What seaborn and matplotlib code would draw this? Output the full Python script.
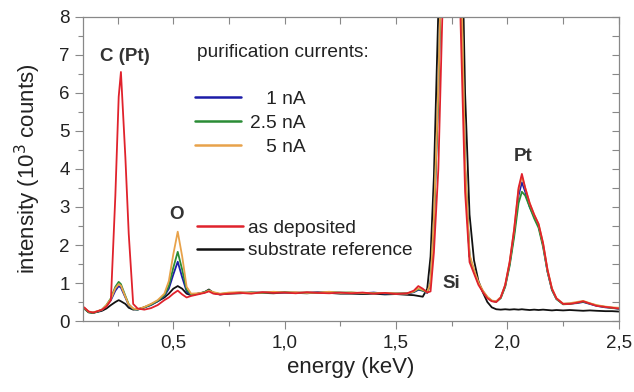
import pandas as pd
import seaborn as sns
import numpy as np
import matplotlib.pyplot as plt
from matplotlib.lines import Line2D
from matplotlib.ticker import MultipleLocator, FuncFormatter

# EDX spectra, energy in keV, intensity in 10^3 counts
energy = [0.10, 0.12, 0.14, 0.16, 0.18, 0.20, 0.22, 0.24, 0.255, 0.265,
          0.285, 0.30, 0.32, 0.34, 0.37, 0.40, 0.43, 0.46, 0.48, 0.50,
          0.52, 0.54, 0.56, 0.58, 0.61, 0.64, 0.66, 0.68, 0.71, 0.75,
          0.80, 0.85, 0.90, 0.95, 1.00, 1.05, 1.10, 1.15, 1.20, 1.25,
          1.30, 1.35, 1.40, 1.45, 1.50, 1.55, 1.58, 1.60, 1.62, 1.64,
          1.655, 1.67, 1.69, 1.71, 1.75, 1.79, 1.81, 1.83, 1.85, 1.87,
          1.89, 1.91, 1.93, 1.95, 1.97, 1.99, 2.01, 2.03, 2.05, 2.065,
          2.08, 2.10, 2.12, 2.14, 2.16, 2.18, 2.20, 2.22, 2.25, 2.28,
          2.31, 2.34, 2.37, 2.40, 2.44, 2.47, 2.50]

substrate = [0.33, 0.23, 0.22, 0.24, 0.27, 0.33, 0.42, 0.50, 0.55, 0.52,
             0.45, 0.35, 0.30, 0.31, 0.36, 0.44, 0.52, 0.62, 0.72, 0.85,
             0.92, 0.85, 0.72, 0.68, 0.72, 0.76, 0.83, 0.74, 0.70, 0.72,
             0.73, 0.75, 0.74, 0.73, 0.75, 0.74, 0.73, 0.75, 0.74, 0.72,
             0.72, 0.71, 0.72, 0.70, 0.71, 0.69, 0.68, 0.66, 0.64, 0.85,
             1.7, 3.8, 8.2, 15, 20, 12, 6.0, 2.8, 1.6, 1.05,
             0.75, 0.50, 0.36, 0.31, 0.30, 0.31, 0.30, 0.31, 0.30, 0.31,
             0.30, 0.29, 0.30, 0.29, 0.30, 0.29, 0.28, 0.29, 0.28, 0.29,
             0.28, 0.27, 0.28, 0.27, 0.26, 0.26, 0.25]

cur_1nA = [0.34, 0.24, 0.22, 0.25, 0.29, 0.40, 0.55, 0.80, 0.92, 0.88,
           0.62, 0.42, 0.32, 0.30, 0.36, 0.42, 0.52, 0.66, 0.85, 1.22,
           1.56, 1.15, 0.78, 0.68, 0.72, 0.75, 0.80, 0.74, 0.70, 0.73,
           0.75, 0.74, 0.75, 0.76, 0.74, 0.75, 0.74, 0.76, 0.75, 0.74,
           0.74, 0.73, 0.75, 0.72, 0.73, 0.72, 0.76, 0.82, 0.80, 0.74,
           1.0, 2.6, 6.0, 11, 20, 9.5, 4.0, 1.7, 1.30, 1.0,
           0.78, 0.62, 0.53, 0.51, 0.62, 0.92, 1.5, 2.3, 3.3, 3.65,
           3.4, 3.0, 2.75, 2.5, 2.0, 1.3, 0.82, 0.58, 0.45, 0.46,
           0.47, 0.50, 0.45, 0.40, 0.36, 0.35, 0.32]

cur_2p5nA = [0.33, 0.23, 0.21, 0.25, 0.30, 0.42, 0.60, 0.90, 1.03, 0.97,
             0.66, 0.44, 0.32, 0.30, 0.36, 0.43, 0.53, 0.68, 0.92, 1.40,
             1.82, 1.35, 0.82, 0.70, 0.71, 0.76, 0.81, 0.75, 0.71, 0.74,
             0.74, 0.75, 0.74, 0.75, 0.76, 0.74, 0.75, 0.74, 0.76, 0.75,
             0.75, 0.73, 0.74, 0.73, 0.72, 0.73, 0.77, 0.84, 0.80, 0.75,
             1.0, 2.6, 6.0, 11, 20, 9.5, 4.0, 1.7, 1.32, 1.0,
             0.78, 0.62, 0.53, 0.51, 0.60, 0.90, 1.45, 2.2, 3.1, 3.40,
             3.3, 3.0, 2.7, 2.45, 1.95, 1.3, 0.82, 0.58, 0.44, 0.45,
             0.48, 0.51, 0.46, 0.41, 0.37, 0.34, 0.33]

cur_5nA = [0.35, 0.25, 0.23, 0.26, 0.30, 0.42, 0.58, 0.86, 0.97, 0.93,
           0.64, 0.43, 0.33, 0.31, 0.37, 0.45, 0.55, 0.72, 1.05, 1.75,
           2.35, 1.70, 0.90, 0.72, 0.73, 0.75, 0.80, 0.76, 0.72, 0.75,
           0.76, 0.74, 0.75, 0.77, 0.75, 0.76, 0.74, 0.75, 0.77, 0.74,
           0.75, 0.74, 0.73, 0.74, 0.73, 0.72, 0.78, 0.86, 0.82, 0.76,
           1.0, 2.7, 6.2, 11, 20, 9.8, 4.2, 1.75, 1.35, 1.02,
           0.80, 0.64, 0.54, 0.52, 0.63, 0.95, 1.55, 2.4, 3.45, 3.80,
           3.5, 3.1, 2.8, 2.55, 2.05, 1.35, 0.86, 0.60, 0.46, 0.47,
           0.50, 0.53, 0.47, 0.42, 0.38, 0.36, 0.35]

as_deposited = [0.36, 0.25, 0.22, 0.26, 0.30, 0.38, 0.55, 3.3, 5.9, 6.55,
                4.3, 2.3, 0.45, 0.33, 0.30, 0.34, 0.42, 0.55, 0.62, 0.72,
                0.80, 0.70, 0.62, 0.66, 0.70, 0.74, 0.78, 0.72, 0.70, 0.72,
                0.74, 0.72, 0.76, 0.74, 0.75, 0.73, 0.76, 0.74, 0.73, 0.75,
                0.73, 0.75, 0.72, 0.74, 0.71, 0.73, 0.80, 0.92, 0.85, 0.75,
                0.78, 1.8, 4.0, 8.5, 20, 7.8, 3.4, 1.55, 1.25, 0.95,
                0.76, 0.60, 0.52, 0.50, 0.62, 0.95, 1.55, 2.4, 3.5, 3.87,
                3.5, 3.1, 2.8, 2.55, 2.05, 1.35, 0.85, 0.60, 0.45, 0.45,
                0.48, 0.52, 0.46, 0.40, 0.37, 0.35, 0.33]

series_names = ['substrate reference', '1 nA', '2.5 nA', '5 nA', 'as deposited']
series_values = [substrate, cur_1nA, cur_2p5nA, cur_5nA, as_deposited]
colors = ['#111111', '#1c1ca8', '#2a8c35', '#e8a24a', '#e0222c']

df = pd.concat([pd.DataFrame({'energy': energy, 'intensity': v, 'sample': n})
                for n, v in zip(series_names, series_values)], ignore_index=True)

sns.set_style('ticks')
plt.rcParams['font.family'] = ['Liberation Sans', 'DejaVu Sans']

fig = plt.figure(figsize=(6.34, 3.92), dpi=100)
ax = fig.add_axes([0.131, 0.181, 0.845, 0.776])

sns.lineplot(data=df, x='energy', y='intensity', hue='sample', hue_order=series_names,
             palette=dict(zip(series_names, colors)), linewidth=1.3, legend=False,
             sort=False, ax=ax)

ax.set_xlim(0.095, 2.5)
ax.set_ylim(0, 8)
ax.set_xlabel('energy (keV)', fontsize=16, color='#222222', labelpad=4)
ax.set_ylabel('intensity (10$^3$ counts)', fontsize=16, color='#222222', labelpad=12)

ax.xaxis.set_major_locator(MultipleLocator(0.5))
ax.xaxis.set_minor_locator(MultipleLocator(0.25))
ax.yaxis.set_major_locator(MultipleLocator(1))
ax.yaxis.set_minor_locator(MultipleLocator(0.5))
ax.xaxis.set_major_formatter(FuncFormatter(lambda v, p: f'{v:.1f}'.replace('.', ',')))
ax.tick_params(which='major', direction='out', length=6, width=0.8, color='#888888',
               labelsize=13.5, labelcolor='#222222')
ax.tick_params(which='minor', direction='out', length=3.5, width=0.8, color='#888888')
for s in ax.spines.values():
    s.set_color('#888888')
    s.set_linewidth(0.9)

# mirrored inward ticks on top and right
top = ax.secondary_xaxis('top')
top.xaxis.set_major_locator(MultipleLocator(0.25))
top.tick_params(direction='in', length=5, color='#888888', labeltop=False)
top.spines['top'].set_visible(False)
right = ax.secondary_yaxis('right')
right.yaxis.set_major_locator(MultipleLocator(0.5))
right.tick_params(direction='in', length=5, color='#888888', labelright=False)
right.spines['right'].set_visible(False)

# peak labels
ann = dict(fontsize=13.5, fontweight='bold', color='#333333', ha='center', va='center')
ax.text(0.284, 6.97, 'C (Pt)', **ann)
ax.text(0.514, 2.79, 'O', **ann)
ax.text(1.748, 1.0, 'Si', **ann)
ax.text(2.072, 4.32, 'Pt', **ann)

# legends
ax.text(0.2127, 0.882, 'purification currents:', transform=ax.transAxes,
        fontsize=13.8, color='#222222', va='center', ha='left')
h1 = [Line2D([], [], color=colors[i], lw=1.8) for i in (1, 2, 3)]
leg1 = ax.legend(h1, ['   1 nA', '2.5 nA', '   5 nA'], loc='upper left',
                 bbox_to_anchor=(0.209, 0.758), frameon=False, fontsize=13.8,
                 borderpad=0, borderaxespad=0, handlelength=2.4, handletextpad=0.47,
                 labelspacing=0.34, labelcolor='#222222')
ax.add_artist(leg1)
h2 = [Line2D([], [], color=colors[i], lw=1.8) for i in (4, 0)]
ax.legend(h2, ['as deposited', 'substrate reference'], loc='upper left',
          bbox_to_anchor=(0.2127, 0.334), frameon=False, fontsize=13.8,
          borderpad=0, borderaxespad=0, handlelength=2.4, handletextpad=0.26,
          labelspacing=0.27, labelcolor='#222222')

plt.savefig('out.png', dpi=100)
